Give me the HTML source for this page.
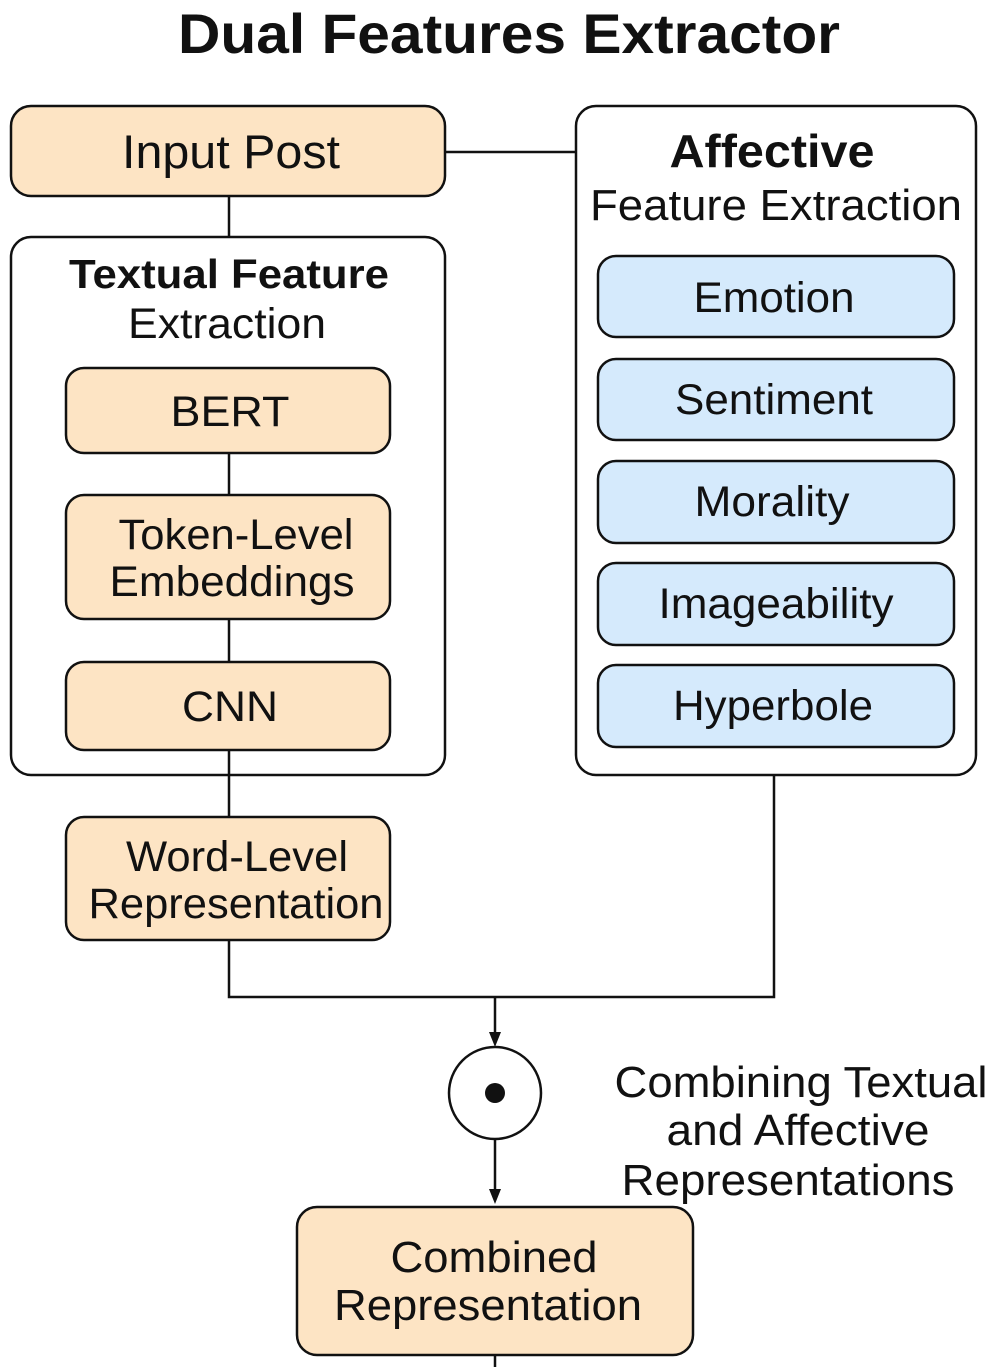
<!DOCTYPE html>
<html><head><meta charset="utf-8"><style>
html,body{margin:0;padding:0;background:#fff;}
svg{display:block;}
text{font-family:"Liberation Sans",sans-serif;fill:#111;text-anchor:middle;}
</style></head><body>
<svg width="999" height="1367" viewBox="0 0 999 1367" xmlns="http://www.w3.org/2000/svg">
<text x="509" y="53" font-size="56" font-weight="bold" textLength="662" lengthAdjust="spacingAndGlyphs">Dual Features Extractor</text>
<g stroke="#111" stroke-width="2.5">
<rect x="11" y="106" width="434" height="90" rx="20" fill="#fde4c4"/>
<rect x="11" y="237" width="434" height="538" rx="20" fill="#fff"/>
<rect x="576" y="106" width="400" height="669" rx="20" fill="#fff"/>
</g>
<g stroke="#111" stroke-width="2.5" fill="none">
<line x1="445" y1="152" x2="576" y2="152"/>
<line x1="229" y1="196" x2="229" y2="237"/>
<line x1="229" y1="453" x2="229" y2="495"/>
<line x1="229" y1="619" x2="229" y2="662"/>
<line x1="229" y1="750" x2="229" y2="817"/>
<polyline points="229,940 229,997 774,997 774,775"/>
<line x1="495" y1="997" x2="495" y2="1035"/>
<line x1="495" y1="1139" x2="495" y2="1192"/>
<line x1="495" y1="1355" x2="495" y2="1367"/>
</g>
<polygon points="489,1032 501,1032 495,1047" fill="#111"/>
<polygon points="489,1189 501,1189 495,1204" fill="#111"/>
<g stroke="#111" stroke-width="2.5">
<rect x="66" y="368" width="324" height="85" rx="18" fill="#fde4c4"/>
<rect x="66" y="495" width="324" height="124" rx="18" fill="#fde4c4"/>
<rect x="66" y="662" width="324" height="88" rx="18" fill="#fde4c4"/>
<rect x="66" y="817" width="324" height="123" rx="18" fill="#fde4c4"/>
<rect x="598" y="256" width="356" height="81" rx="18" fill="#d5eafc"/>
<rect x="598" y="359" width="356" height="81" rx="18" fill="#d5eafc"/>
<rect x="598" y="461" width="356" height="82" rx="18" fill="#d5eafc"/>
<rect x="598" y="563" width="356" height="82" rx="18" fill="#d5eafc"/>
<rect x="598" y="665" width="356" height="82" rx="18" fill="#d5eafc"/>
<rect x="297" y="1207" width="396" height="148" rx="20" fill="#fde4c4"/>
<circle cx="495" cy="1093" r="46" fill="#fff"/>
</g>
<circle cx="495" cy="1093" r="10" fill="#111"/>
<text x="231" y="168" font-size="47" textLength="218" lengthAdjust="spacingAndGlyphs">Input Post</text>
<text x="229" y="288" font-size="41" font-weight="bold" textLength="320" lengthAdjust="spacingAndGlyphs">Textual Feature</text>
<text x="227" y="338" font-size="43" textLength="198" lengthAdjust="spacingAndGlyphs">Extraction</text>
<text x="230" y="426" font-size="43" textLength="119" lengthAdjust="spacingAndGlyphs">BERT</text>
<text x="236" y="549" font-size="43" textLength="235" lengthAdjust="spacingAndGlyphs">Token-Level</text>
<text x="232" y="596" font-size="43" textLength="245" lengthAdjust="spacingAndGlyphs">Embeddings</text>
<text x="230" y="721" font-size="43" textLength="96" lengthAdjust="spacingAndGlyphs">CNN</text>
<text x="237" y="871" font-size="43" textLength="222" lengthAdjust="spacingAndGlyphs">Word-Level</text>
<text x="236" y="918" font-size="43" textLength="295" lengthAdjust="spacingAndGlyphs">Representation</text>
<text x="772" y="167" font-size="46" font-weight="bold" textLength="205" lengthAdjust="spacingAndGlyphs">Affective</text>
<text x="776" y="220" font-size="44" textLength="372" lengthAdjust="spacingAndGlyphs">Feature Extraction</text>
<text x="774" y="312" font-size="43" textLength="161" lengthAdjust="spacingAndGlyphs">Emotion</text>
<text x="774" y="414" font-size="43" textLength="198" lengthAdjust="spacingAndGlyphs">Sentiment</text>
<text x="772" y="516" font-size="43" textLength="155" lengthAdjust="spacingAndGlyphs">Morality</text>
<text x="776" y="618" font-size="43" textLength="235" lengthAdjust="spacingAndGlyphs">Imageability</text>
<text x="773" y="720" font-size="43" textLength="200" lengthAdjust="spacingAndGlyphs">Hyperbole</text>
<text x="801" y="1097" font-size="44" textLength="373" lengthAdjust="spacingAndGlyphs">Combining Textual</text>
<text x="798" y="1145" font-size="44" textLength="263" lengthAdjust="spacingAndGlyphs">and Affective</text>
<text x="788" y="1195" font-size="44" textLength="333" lengthAdjust="spacingAndGlyphs">Representations</text>
<text x="494" y="1272" font-size="44" textLength="207" lengthAdjust="spacingAndGlyphs">Combined</text>
<text x="488" y="1320" font-size="44" textLength="308" lengthAdjust="spacingAndGlyphs">Representation</text>
</svg>
</body></html>
